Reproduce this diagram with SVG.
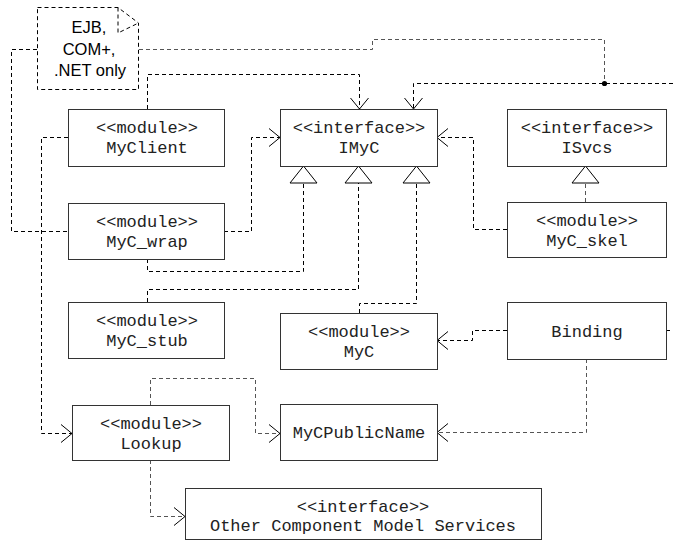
<svg xmlns="http://www.w3.org/2000/svg" width="673" height="544" viewBox="0 0 673 544">
<style>
.box{fill:#fff;stroke:#333;stroke-width:1}
.t{font-family:"Liberation Mono","Courier New",monospace;font-size:17px;fill:#222;text-anchor:middle}
.n{font-family:"Liberation Sans",Arial,sans-serif;font-size:16.5px;fill:#000;text-anchor:middle}
.c{fill:none;stroke:#000;stroke-width:1;stroke-dasharray:4,3}
.g{stroke:#555}
.tri{fill:#fff;stroke:#000;stroke-width:1}
</style>
<defs>
<marker id="arr" viewBox="-13 -11 14 22" refX="0" refY="0" markerWidth="14" markerHeight="22" markerUnits="userSpaceOnUse" orient="auto">
<path d="M-11,-9 L0,0 L-11,9" fill="none" stroke="#000" stroke-width="1" stroke-dasharray="none"/>
</marker>
</defs>
<rect width="673" height="544" fill="#fff"/>
<g id="connectors">
<path class="c" d="M68,137.5 H41.5 V433.5 H72" marker-end="url(#arr)"/>
<path class="c" d="M224,231.5 H251.5 V137.5 H280" marker-end="url(#arr)"/>
<path class="c" d="M147.5,259 V271.5 H303.5 V183"/>
<path class="c" d="M147.5,302 V289.5 H358.5 V183"/>
<path class="c" d="M359.5,313 V303.5 H416.5 V183"/>
<path class="c" d="M507,229.5 H473.5 V137.5 H437" marker-end="url(#arr)"/>
<path class="c g" d="M585.5,202 V183"/>
<path class="c" d="M507,330.5 H472.5 V340.5 H437" marker-end="url(#arr)"/>
<path class="c" d="M666,330.5 H673"/>
<path class="c g" d="M586.5,359 V432.5 H437" marker-end="url(#arr)"/>
<path class="c g" d="M150.5,405 V378.5 H255.5 V433.5 H280" marker-end="url(#arr)"/>
<path class="c g" d="M150.5,460 V516.5 H185" marker-end="url(#arr)"/>
<path class="c" d="M37,49.5 H11.5 V231.5 H68"/>
<path class="c g" d="M139,49.5 H372.5 V39.5 H604.5 V83.5"/>
<path class="c" d="M147.5,109 V74.5 H359.5 V109" marker-end="url(#arr)"/>
<path class="c" d="M673,83.5 H413.5 V109" marker-end="url(#arr)"/>
<circle cx="604.5" cy="83.5" r="2.6" fill="#000"/>
<polygon class="tri" points="303.5,166 290,183 317,183"/>
<polygon class="tri" points="358.5,166 345,183 372,183"/>
<polygon class="tri" points="416.5,166 403,183 430,183"/>
<polygon class="tri" points="585.5,166 572,183 599,183"/>
</g>
<g id="note">
<path class="c" d="M37.5,7.5 H118 L138.5,23 V89.5 H37.5 Z"/>
<path class="c" d="M118,7.5 V33 L138.5,23"/>
<text class="n" x="89" y="33">EJB,</text>
<text class="n" x="89" y="55">COM+,</text>
<text class="n" x="90" y="76">.NET only</text>
</g>
<g id="MyClient">
<rect class="box" x="68.5" y="109.5" width="156" height="57"/>
<text class="t" x="147" y="133">&lt;&lt;module&gt;&gt;</text>
<text class="t" x="147" y="153">MyClient</text>
</g>
<g id="IMyC">
<rect class="box" x="280.5" y="109.5" width="157" height="57"/>
<text class="t" x="359" y="133">&lt;&lt;interface&gt;&gt;</text>
<text class="t" x="359" y="153">IMyC</text>
</g>
<g id="ISvcs">
<rect class="box" x="507.5" y="109.5" width="159" height="57"/>
<text class="t" x="587" y="133">&lt;&lt;interface&gt;&gt;</text>
<text class="t" x="587" y="153">ISvcs</text>
</g>
<g id="MyC_wrap">
<rect class="box" x="68.5" y="203.5" width="156" height="56"/>
<text class="t" x="147" y="227">&lt;&lt;module&gt;&gt;</text>
<text class="t" x="147" y="247">MyC_wrap</text>
</g>
<g id="MyC_skel">
<rect class="box" x="507.5" y="202.5" width="159" height="55"/>
<text class="t" x="587" y="226">&lt;&lt;module&gt;&gt;</text>
<text class="t" x="587" y="246">MyC_skel</text>
</g>
<g id="MyC_stub">
<rect class="box" x="68.5" y="302.5" width="156" height="56"/>
<text class="t" x="147" y="326">&lt;&lt;module&gt;&gt;</text>
<text class="t" x="147" y="346">MyC_stub</text>
</g>
<g id="MyC">
<rect class="box" x="280.5" y="313.5" width="157" height="56"/>
<text class="t" x="359" y="337">&lt;&lt;module&gt;&gt;</text>
<text class="t" x="359" y="357">MyC</text>
</g>
<g id="Binding">
<rect class="box" x="507.5" y="302.5" width="159" height="57"/>
<text class="t" x="587" y="337">Binding</text>
</g>
<g id="Lookup">
<rect class="box" x="72.5" y="405.5" width="157" height="55"/>
<text class="t" x="151" y="429">&lt;&lt;module&gt;&gt;</text>
<text class="t" x="151" y="449">Lookup</text>
</g>
<g id="MyCPublicName">
<rect class="box" x="280.5" y="404.5" width="157" height="56"/>
<text class="t" x="359" y="438">MyCPublicName</text>
</g>
<g id="OtherServices">
<rect class="box" x="185.5" y="488.5" width="356" height="51"/>
<text class="t" x="363" y="512">&lt;&lt;interface&gt;&gt;</text>
<text class="t" x="363" y="531">Other Component Model Services</text>
</g>
</svg>
